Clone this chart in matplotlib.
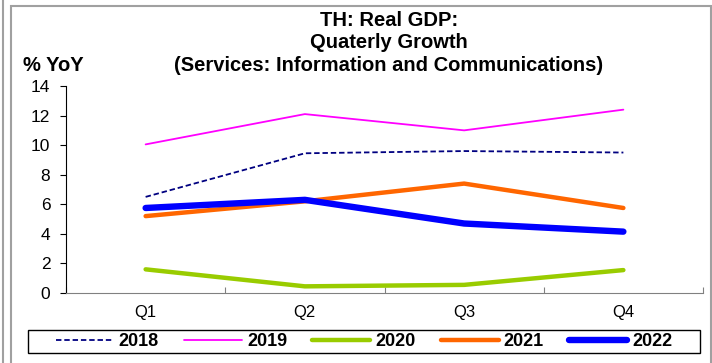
import matplotlib
matplotlib.use('Agg')
import matplotlib.pyplot as plt
from matplotlib.lines import Line2D
import numpy as np

plt.rcParams['font.family'] = ['Liberation Sans', 'DejaVu Sans']

# data
quarters = ['Q1', 'Q2', 'Q3', 'Q4']
years = ['2018', '2019', '2020', '2021', '2022']
g2018 = [6.5, 9.45, 9.6, 9.5]
g2019 = [10.05, 12.1, 11.0, 12.4]
g2020 = [1.6, 0.45, 0.55, 1.55]
g2021 = [5.2, 6.2, 7.4, 5.75]
g2022 = [5.75, 6.3, 4.7, 4.15]

series = [g2018, g2019, g2020, g2021, g2022]
colors = ['#000080', '#FF00FF', '#99CC00', '#FF6600', '#0000FF']
widths = [1.3, 1.3, 3.2, 3.2, 4.6]
styles = [(0, (3, 1.6)), '-', '-', '-', '-']

fig = plt.figure(figsize=(7.12, 3.63), dpi=100)
ax = fig.add_axes([66 / 712, 70 / 363, 637 / 712, 207 / 363])

x = np.arange(len(quarters))
for vals, c, lw, ls, lab in zip(series, colors, widths, styles, years):
    ax.plot(x, vals, color=c, lw=lw, ls=ls, label=lab,
            solid_capstyle='round', dash_capstyle='butt')

ax.set_xlim(-0.5, 3.5)
ax.set_ylim(0, 14)
ax.set_yticks(np.arange(0, 15, 2))
ax.set_xticks(np.arange(-0.5, 4, 1))
ax.set_xticklabels([])
ax.set_xticks(x, minor=True)
ax.set_xticklabels(quarters, minor=True)
ax.tick_params(axis='x', which='minor', length=0, pad=9, labelsize=12)
ax.tick_params(axis='x', which='major', length=4, direction='in', color='#808080')
ax.tick_params(axis='y', length=4.3, direction='out', labelsize=12.5, pad=7)
for s in ['top', 'right']:
    ax.spines[s].set_visible(False)
ax.spines['bottom'].set_color('#808080')
ax.spines['left'].set_color('black')

# titles
tfs = 14.5
fig.text(389 / 712, 1 - 20 / 363, 'TH: Real GDP:', ha='center', va='center', fontsize=tfs, fontweight='bold')
fig.text(389 / 712, 1 - 42.5 / 363, 'Quaterly Growth', ha='center', va='center', fontsize=tfs, fontweight='bold')
fig.text(389 / 712, 1 - 65.5 / 363, '(Services: Information and Communications)', ha='center', va='center', fontsize=tfs, fontweight='bold')
fig.text(23 / 712, 1 - 65.5 / 363, '% YoY', ha='left', va='center', fontsize=tfs, fontweight='bold')

leg = fig.legend(loc='center', bbox_to_anchor=(364 / 712, 1 - 341.5 / 363), ncol=5,
                 frameon=False, handlelength=3.2, handletextpad=0.28, columnspacing=1.4,
                 borderpad=0.0, prop={'weight': 'bold', 'size': 13})

# legend box
fig.add_artist(plt.Rectangle((28 / 712, 1 - 353 / 363), 672 / 712, 23 / 363,
                             transform=fig.transFigure, fill=False, edgecolor='black', lw=1.0))

# outer frame of the chart
fig.add_artist(plt.Rectangle((11 / 712, -0.01), 700 / 712, 1 - 6 / 363 + 0.01,
                             transform=fig.transFigure, fill=False, edgecolor='#A0A0A0', lw=1.5))
fig.add_artist(Line2D([3 / 712, 3 / 712], [0, 1], transform=fig.transFigure, color='#A0A0A0', lw=1.5))

fig.savefig('out.png', dpi=100)
